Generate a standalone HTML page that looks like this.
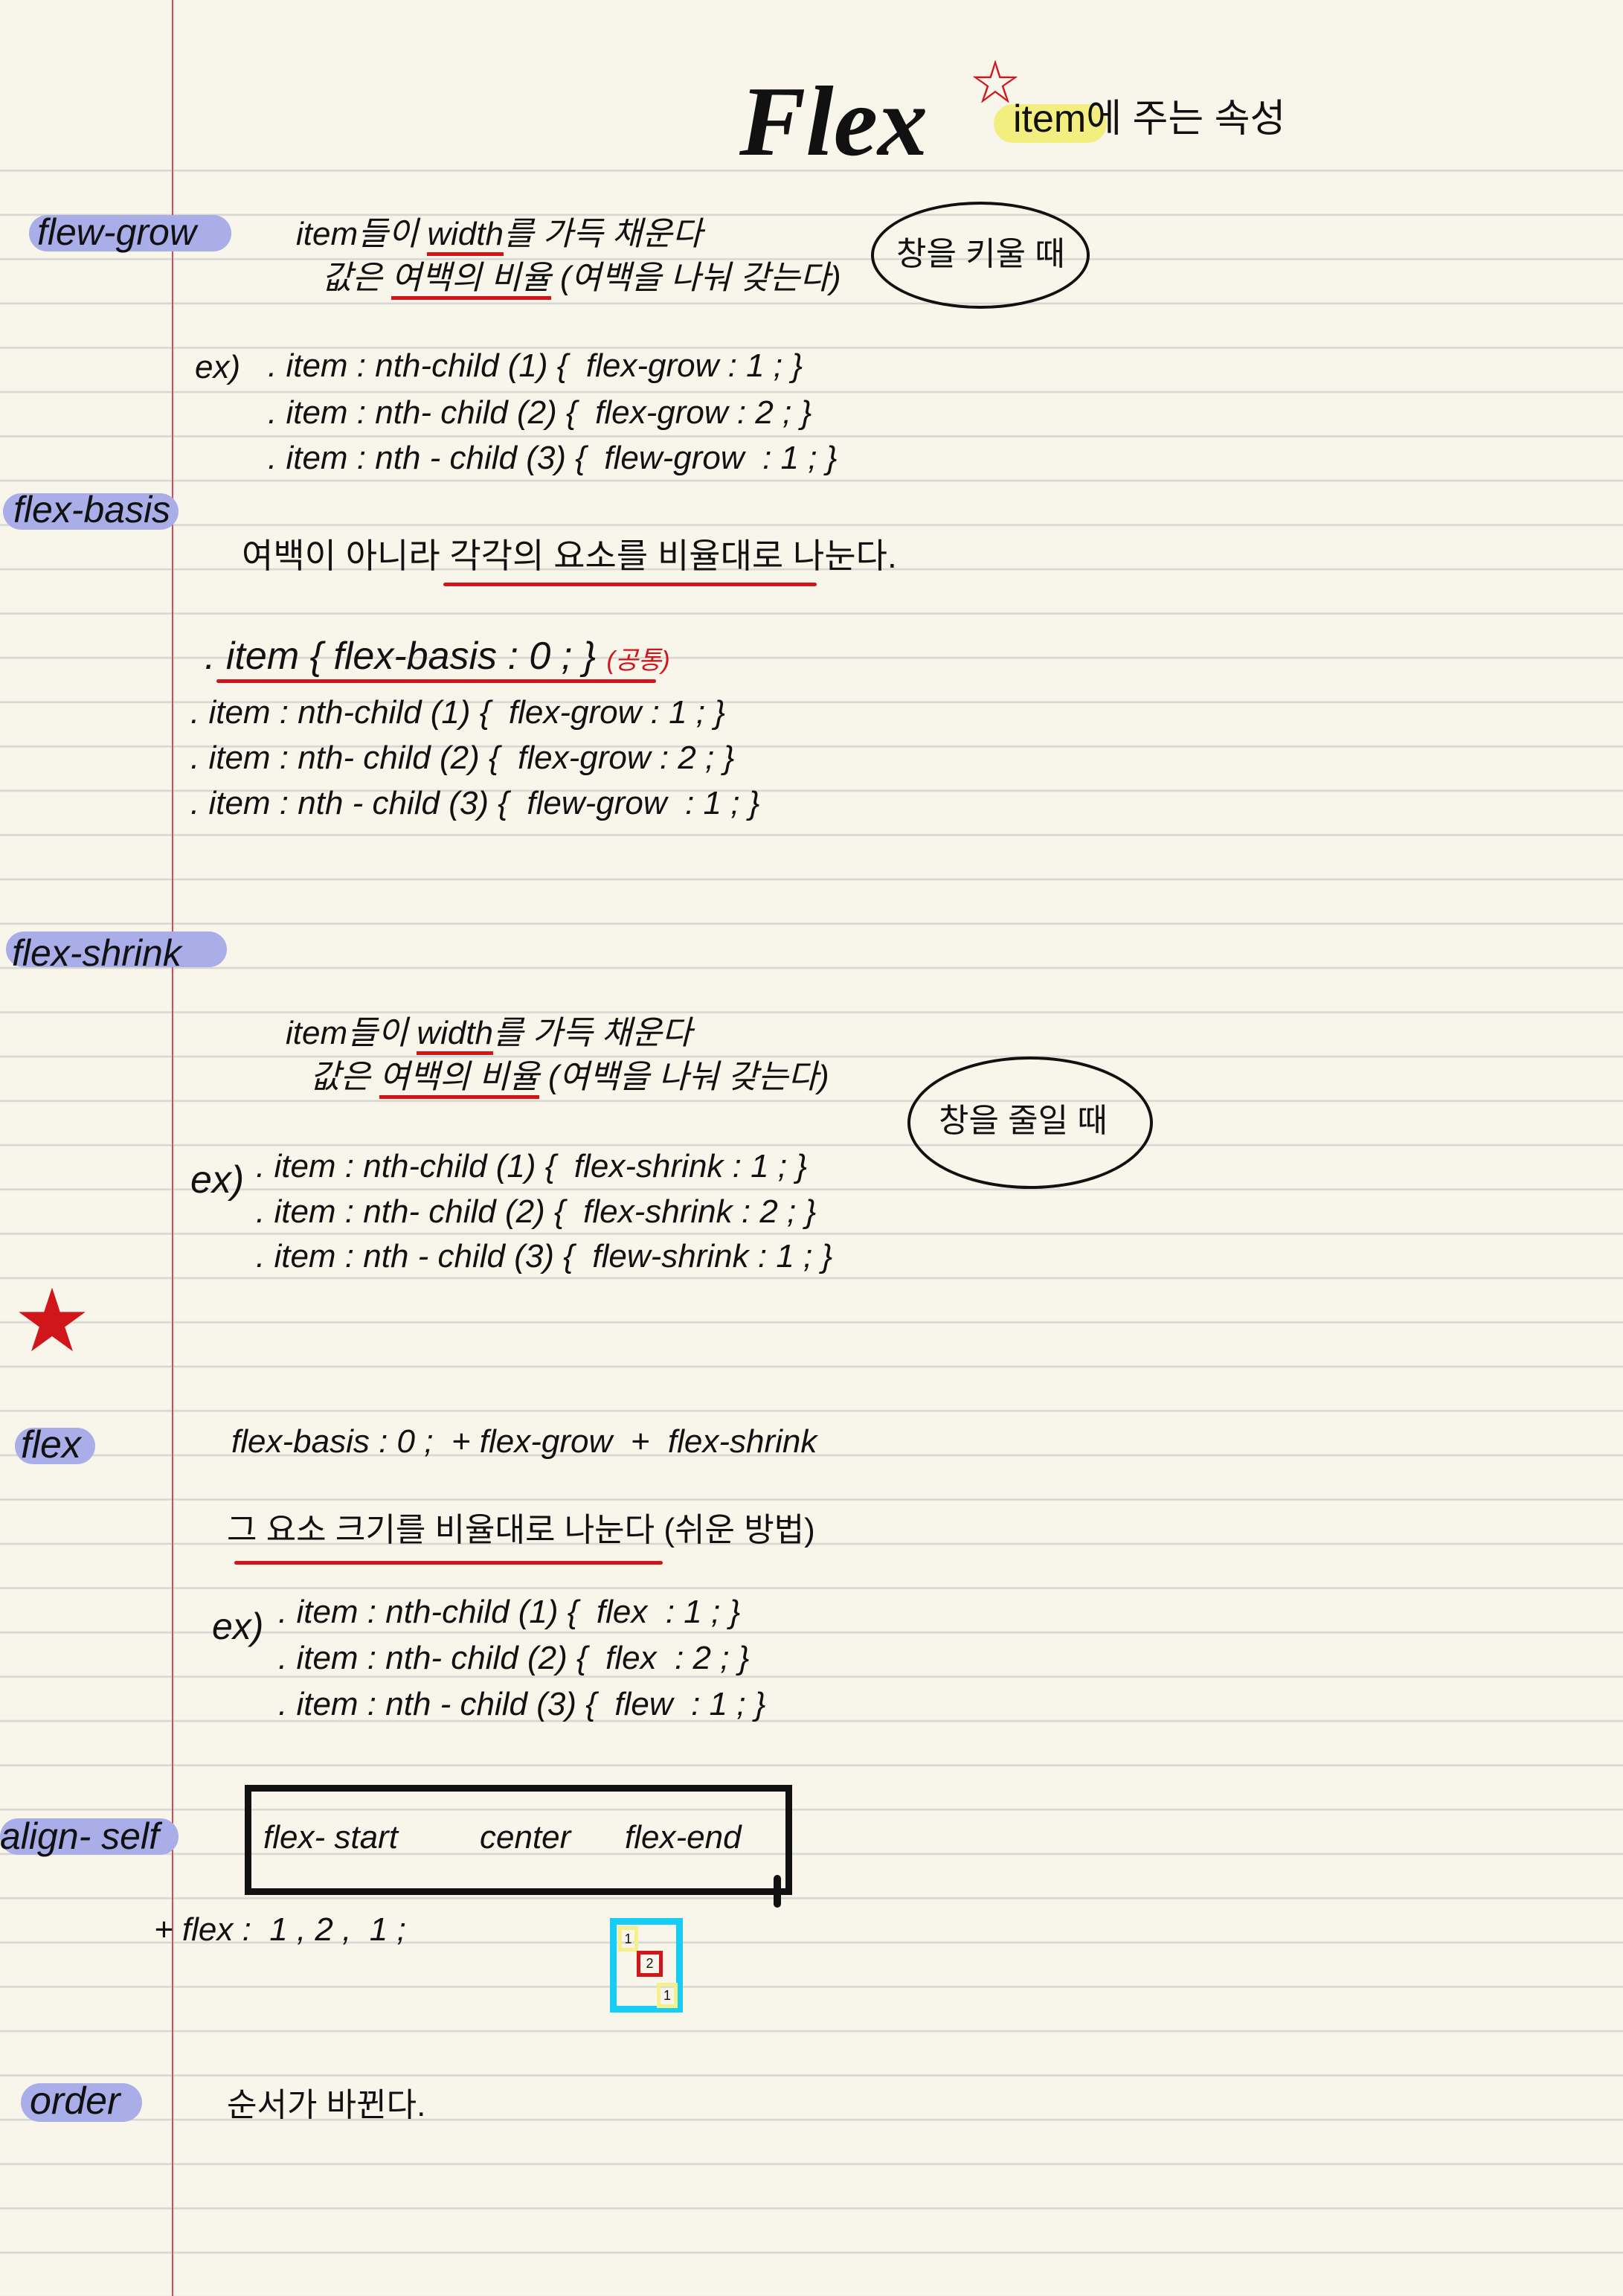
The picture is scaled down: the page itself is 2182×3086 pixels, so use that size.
<!DOCTYPE html>
<html><head><meta charset="utf-8"><style>
body{margin:0;width:2182px;height:3086px;position:relative;overflow:hidden;background:#f8f6ea;
background-image:repeating-linear-gradient(to bottom,transparent 0,transparent 57px,#d6d6d2 57px,#d6d6d2 59.55px);
background-position:0 171px;font-family:"Liberation Sans","Noto Sans CJK KR",sans-serif;color:#111}
.t{position:absolute;white-space:nowrap;font-size:44px;line-height:1}
.pill{position:absolute;background:#a9aee8;border-radius:26px}
.ul{position:absolute;height:5px;background:#d0161b;border-radius:3px}
.ell{position:absolute;border:4px solid #111;border-radius:50%}
</style></head><body>
<div style="position:absolute;left:0;top:0;width:2182px;height:226px;background:#f8f6ea"></div>
<div style="position:absolute;left:231px;top:0;width:2px;height:3086px;background:#d84a5a"></div>

<div class="t" style="left:994px;top:96px;font-family:'Liberation Serif',serif;font-weight:bold;font-style:italic;font-size:134px">Flex</div>
<div class="t" style="left:1306px;top:80px;color:#d0161b;font-size:64px">☆</div>
<div style="position:absolute;left:1336px;top:140px;width:152px;height:52px;background:#f2ef80;border-radius:26px"></div>
<div class="t" style="left:1362px;top:134px;font-size:52px">item에 주는 속성</div>

<div class="pill" style="left:39px;top:289px;width:272px;height:49px"></div>
<div class="t" style="left:50px;top:287px;font-size:50px;font-style:italic">flew-grow</div>
<div class="t" style="left:398px;top:293px;font-style:italic">item들이 <span style="border-bottom:5px solid #d0161b">width</span>를 가득 채운다</div>
<div class="t" style="left:433px;top:352px;font-style:italic">값은 <span style="border-bottom:5px solid #d0161b">여백의 비율</span> (여백을 나눠 갖는다)</div>
<div class="ell" style="left:1171px;top:271px;width:286px;height:136px"></div>
<div class="t" style="left:1205px;top:320px">창을 키울 때</div>
<div class="t" style="left:262px;top:472px;font-style:italic">ex)</div>
<div class="t" style="left:360px;top:470px;font-style:italic">. item : nth-child (1) { &nbsp;flex-grow : 1 ; }</div>
<div class="t" style="left:360px;top:533px;font-style:italic">. item : nth- child (2) { &nbsp;flex-grow : 2 ; }</div>
<div class="t" style="left:360px;top:594px;font-style:italic">. item : nth - child (3) { &nbsp;flew-grow &nbsp;: 1 ; }</div>

<div class="pill" style="left:4px;top:663px;width:236px;height:49px"></div>
<div class="t" style="left:18px;top:660px;font-size:50px;font-style:italic">flex-basis</div>
<div class="t" style="left:325px;top:724px;font-size:46px">여백이 아니라 각각의 요소를 비율대로 나눈다.</div>
<div class="ul" style="left:596px;top:783px;width:502px"></div>
<div class="t" style="left:275px;top:856px;font-size:52px;font-style:italic">. item { flex-basis : 0 ; } <span style="color:#d0161b;font-size:34px">(공통)</span></div>
<div class="ul" style="left:291px;top:913px;width:591px"></div>
<div class="t" style="left:256px;top:936px;font-style:italic">. item : nth-child (1) { &nbsp;flex-grow : 1 ; }</div>
<div class="t" style="left:256px;top:997px;font-style:italic">. item : nth- child (2) { &nbsp;flex-grow : 2 ; }</div>
<div class="t" style="left:256px;top:1058px;font-style:italic">. item : nth - child (3) { &nbsp;flew-grow &nbsp;: 1 ; }</div>

<div class="pill" style="left:8px;top:1252px;width:297px;height:48px"></div>
<div class="t" style="left:16px;top:1256px;font-size:50px;font-style:italic">flex-shrink</div>
<div class="t" style="left:384px;top:1367px;font-style:italic">item들이 <span style="border-bottom:5px solid #d0161b">width</span>를 가득 채운다</div>
<div class="t" style="left:417px;top:1426px;font-style:italic">값은 <span style="border-bottom:5px solid #d0161b">여백의 비율</span> (여백을 나눠 갖는다)</div>
<div class="ell" style="left:1220px;top:1420px;width:322px;height:170px"></div>
<div class="t" style="left:1262px;top:1485px">창을 줄일 때</div>
<div class="t" style="left:256px;top:1560px;font-size:52px;font-style:italic">ex)</div>
<div class="t" style="left:344px;top:1546px;font-style:italic">. item : nth-child (1) { &nbsp;flex-shrink : 1 ; }</div>
<div class="t" style="left:344px;top:1607px;font-style:italic">. item : nth- child (2) { &nbsp;flex-shrink : 2 ; }</div>
<div class="t" style="left:344px;top:1667px;font-style:italic">. item : nth - child (3) { &nbsp;flew-shrink : 1 ; }</div>

<div class="t" style="left:22px;top:1730px;color:#d0161b;font-size:96px">★</div>

<div class="pill" style="left:20px;top:1919px;width:108px;height:49px"></div>
<div class="t" style="left:28px;top:1916px;font-size:52px;font-style:italic">flex</div>
<div class="t" style="left:311px;top:1916px;font-style:italic">flex-basis : 0 ; &nbsp;+ flex-grow &nbsp;+ &nbsp;flex-shrink</div>
<div class="t" style="left:305px;top:2035px">그 요소 크기를 비율대로 나눈다 (쉬운 방법)</div>
<div class="ul" style="left:315px;top:2098px;width:576px"></div>
<div class="t" style="left:285px;top:2161px;font-size:50px;font-style:italic">ex)</div>
<div class="t" style="left:374px;top:2145px;font-style:italic">. item : nth-child (1) { &nbsp;flex &nbsp;: 1 ; }</div>
<div class="t" style="left:374px;top:2207px;font-style:italic">. item : nth- child (2) { &nbsp;flex &nbsp;: 2 ; }</div>
<div class="t" style="left:374px;top:2269px;font-style:italic">. item : nth - child (3) { &nbsp;flew &nbsp;: 1 ; }</div>

<div class="pill" style="left:0px;top:2444px;width:240px;height:49px"></div>
<div class="t" style="left:0px;top:2443px;font-size:50px;font-style:italic">align- self</div>
<div style="position:absolute;left:329px;top:2399px;width:718px;height:130px;border:9px solid #111"></div>
<div style="position:absolute;left:1040px;top:2520px;width:10px;height:44px;background:#111;border-radius:5px"></div>
<div class="t" style="left:354px;top:2448px;font-style:italic">flex- start</div>
<div class="t" style="left:645px;top:2448px;font-style:italic">center</div>
<div class="t" style="left:840px;top:2448px;font-style:italic">flex-end</div>
<div class="t" style="left:207px;top:2572px;font-style:italic">+ flex : &nbsp;1 , 2 , &nbsp;1 ;</div>
<div style="position:absolute;left:820px;top:2578px;width:98px;height:127px;border:9px solid #16cdf5;box-sizing:border-box"></div>
<div style="position:absolute;left:831px;top:2589px;width:27px;height:34px;border:5px solid #f5f08a;box-sizing:border-box;font-size:18px;text-align:center;line-height:24px">1</div>
<div style="position:absolute;left:856px;top:2622px;width:35px;height:35px;border:5px solid #d0161b;box-sizing:border-box;font-size:18px;text-align:center;line-height:25px">2</div>
<div style="position:absolute;left:883px;top:2665px;width:28px;height:34px;border:5px solid #f5f08a;box-sizing:border-box;font-size:18px;text-align:center;line-height:24px">1</div>

<div class="pill" style="left:28px;top:2800px;width:163px;height:52px"></div>
<div class="t" style="left:40px;top:2798px;font-size:52px;font-style:italic">order</div>
<div class="t" style="left:305px;top:2808px">순서가 바뀐다.</div>
</body></html>
